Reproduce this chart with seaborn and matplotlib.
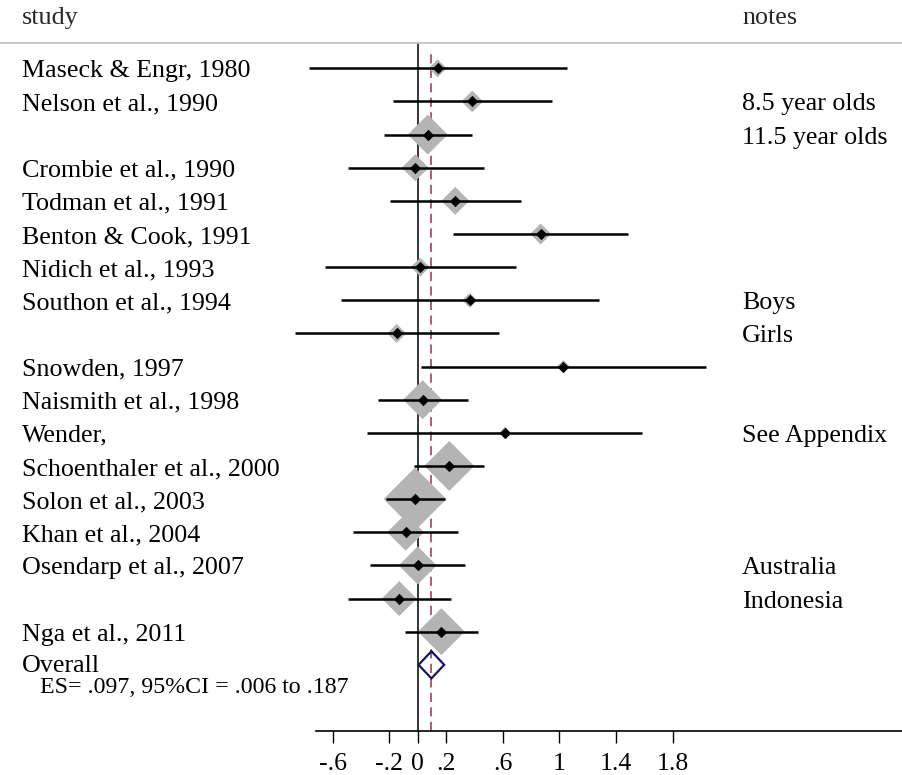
import numpy as np
import pandas as pd
import matplotlib
matplotlib.use("Agg")
import matplotlib.pyplot as plt
import matplotlib.transforms as mtransforms
import seaborn as sns

# ---------------- data ----------------
studies = ["Maseck & Engr, 1980", "Nelson et al., 1990", "", "Crombie et al., 1990",
           "Todman et al., 1991", "Benton & Cook, 1991", "Nidich et al., 1993",
           "Southon et al., 1994", "", "Snowden, 1997", "Naismith et al., 1998",
           "Wender,", "Schoenthaler et al., 2000", "Solon et al., 2003",
           "Khan et al., 2004", "Osendarp et al., 2007", "", "Nga et al., 2011"]
notes = ["", "8.5 year olds", "11.5 year olds", "", "", "", "", "Boys", "Girls", "",
         "", "See Appendix", "", "", "", "Australia", "Indonesia", ""]
es = [0.141, 0.385, 0.071, -0.017, 0.265, 0.868, 0.018, 0.367, -0.148, 1.028,
      0.035, 0.616, 0.223, -0.019, -0.085, 0.000, -0.130, 0.167]
ci_low = [-0.767, -0.172, -0.236, -0.490, -0.195, 0.251, -0.654, -0.539, -0.864, 0.025,
          -0.278, -0.356, -0.026, -0.224, -0.459, -0.337, -0.494, -0.090]
ci_high = [1.056, 0.946, 0.383, 0.466, 0.731, 1.486, 0.694, 1.279, 0.572, 2.035,
           0.353, 1.585, 0.470, 0.193, 0.287, 0.336, 0.237, 0.423]
weights = [1.63, 2.37, 8.06, 3.67, 3.95, 2.22, 1.82, 1.13, 1.82, 0.85,
           7.66, 0.73, 12.6, 20.0, 6.90, 7.28, 6.17, 11.13]
overall_es = 0.097
overall_low = 0.006
overall_high = 0.187
xtick_values = [-0.6, -0.2, 0, 0.2, 0.6, 1, 1.4, 1.8]
xtick_labels = ["-.6", "-.2", "0", ".2", ".6", "1", "1.4", "1.8"]

# ---------------- style ----------------
sns.set_theme(style="white")
plt.rcParams["font.family"] = ["Liberation Serif", "DejaVu Serif"]

W, H = 903, 775
fig = plt.figure(figsize=(W / 100, H / 100), dpi=100)
ax_left_px, ax_right_px, ax_top_px, ax_bot_px = 316, 903, 43, 730.7
ax = fig.add_axes([ax_left_px / W, 1 - ax_bot_px / H,
                   (ax_right_px - ax_left_px) / W, (ax_bot_px - ax_top_px) / H])

x0_px, px_per_unit = 417.7, 141.7
ax.set_xlim((ax_left_px - x0_px) / px_per_unit, (ax_right_px - x0_px) / px_per_unit)
row0_px, row_step = 68.3, 33.14
ax.set_ylim(1 + (ax_bot_px - row0_px) / row_step, 1 + (ax_top_px - row0_px) / row_step)

rows = np.arange(1, len(studies) + 1)
df = pd.DataFrame({"study": studies, "note": notes, "es": es, "lo": ci_low,
                   "hi": ci_high, "w": weights, "row": rows})

# reference lines
ax.axvline(0, color="black", lw=1.1, zorder=1)
ax.axvline(overall_es, ymin=0, ymax=(ax_bot_px - 50) / (ax_bot_px - ax_top_px),
           color="#9b3048", lw=1.1, dashes=(6, 3.5), zorder=1.5)

# weight boxes (grey diamonds)
k = 51.4
sns.scatterplot(data=df, x="es", y="row", size="w",
                sizes=(k * min(weights), k * max(weights)), marker="D",
                color="#b4b4b4", edgecolor="none", linewidth=0, legend=False,
                ax=ax, zorder=2)
# confidence intervals
ax.hlines(df["row"], df["lo"], df["hi"], color="black", lw=1.8, zorder=3,
          clip_on=False)
# point estimates
sns.scatterplot(data=df, x="es", y="row", marker="D", s=28, color="black",
                edgecolor="black", linewidth=0.5, legend=False, ax=ax, zorder=4)

# overall diamond
ov_row = len(studies) + 1
h = 0.41
ax.fill([overall_low, overall_es, overall_high, overall_es, overall_low],
        [ov_row, ov_row - h, ov_row, ov_row + h, ov_row],
        facecolor="none", edgecolor="#14146e", lw=1.6, zorder=5, clip_on=False)

# axis styling
for s in ["top", "left", "right"]:
    ax.spines[s].set_visible(False)
ax.spines["bottom"].set_color("black")
ax.spines["bottom"].set_linewidth(1.2)
ax.set_yticks([])
ax.set_xticks(xtick_values)
ax.set_xticklabels(xtick_labels)
ax.tick_params(axis="x", bottom=True, length=8.4, width=1.0, color="black",
               pad=7.5, labelsize=18.5, labelcolor="black")
ax.set_xlabel("")
ax.set_ylabel("")
ax.grid(False)

# texts
tr = mtransforms.blended_transform_factory(fig.transFigure, ax.transData)
label_x = 22 / W
note_x = 742 / W
fs = 18.7
dy = 3 / row_step
for r, s, n in zip(rows, studies, notes):
    if s:
        ax.text(label_x, r + dy, s, transform=tr, ha="left", va="center",
                fontsize=fs, color="black")
    if n:
        ax.text(note_x, r + dy, n, transform=tr, ha="left", va="center",
                fontsize=fs, color="black")

ax.text(label_x, ov_row + dy * 0.3, "Overall", transform=tr, ha="left", va="center",
        fontsize=fs, color="black")


def fmt(v):
    s = f"{v:.3f}"
    return s.replace("0.", ".", 1) if s.startswith("0.") else s


ax.text(40 / W, 1 + (688 - row0_px) / row_step,
        f"ES= {fmt(overall_es)}, 95%CI = {fmt(overall_low)} to {fmt(overall_high)}",
        transform=tr, ha="left", va="center", fontsize=17.2, color="black")

# header
fig.text(22 / W, 1 - 18 / H, "study", ha="left", va="center", fontsize=fs)
fig.text(742 / W, 1 - 18 / H, "notes", ha="left", va="center", fontsize=fs)
fig.add_artist(plt.Line2D([0, 1], [1 - 43 / H, 1 - 43 / H], transform=fig.transFigure,
                          color="#c4c4c4", lw=1.3))

fig.savefig("out.png", dpi=100, facecolor="white")
